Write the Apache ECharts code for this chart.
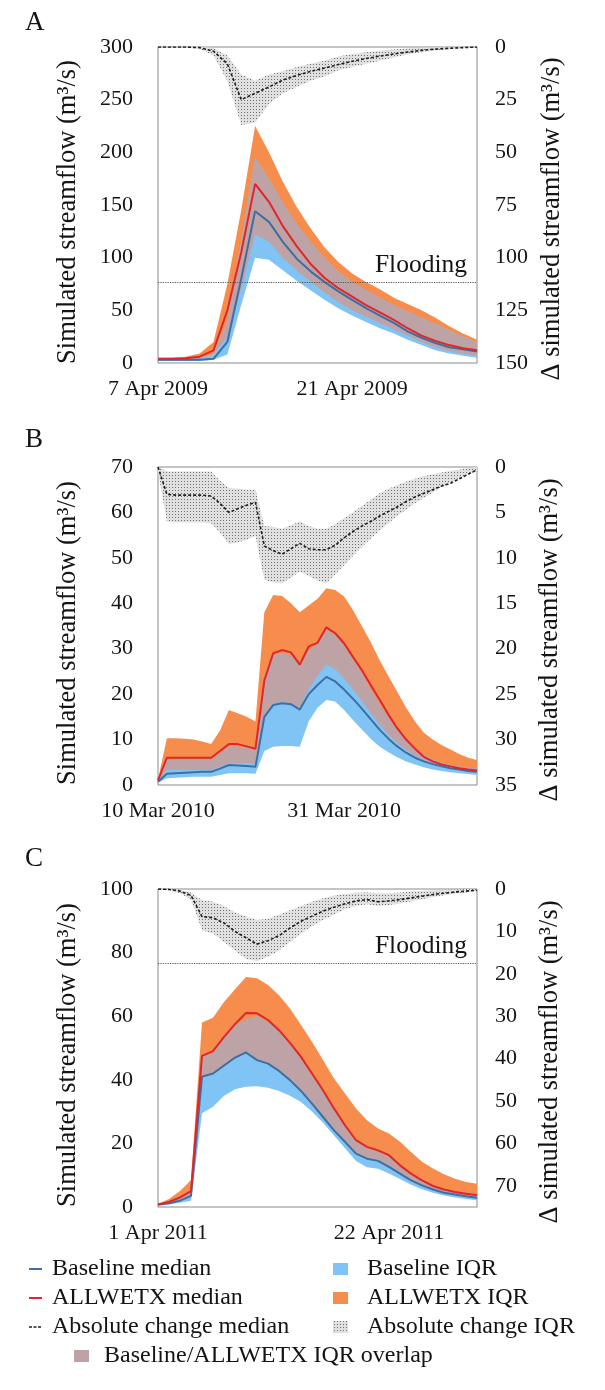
<!DOCTYPE html>
<html><head><meta charset="utf-8">
<script src="https://cdn.jsdelivr.net/npm/echarts@6/dist/echarts.min.js"></script>
<style>html,body{margin:0;padding:0;background:#fff}#c{width:605px;height:1390px}</style>
</head><body><div id="c"></div>
<script>
// ---------- categories & tick labels ----------
const catA = ['7 Apr 2009','8 Apr 2009','9 Apr 2009','10 Apr 2009','11 Apr 2009','12 Apr 2009','13 Apr 2009','14 Apr 2009','15 Apr 2009','16 Apr 2009','17 Apr 2009','18 Apr 2009','19 Apr 2009','20 Apr 2009','21 Apr 2009','22 Apr 2009','23 Apr 2009','24 Apr 2009','25 Apr 2009','26 Apr 2009','27 Apr 2009','28 Apr 2009','29 Apr 2009','30 Apr 2009'];
const catB = ['10 Mar 2010','11 Mar 2010','12 Mar 2010','13 Mar 2010','14 Mar 2010','15 Mar 2010','16 Mar 2010','17 Mar 2010','18 Mar 2010','19 Mar 2010','20 Mar 2010','21 Mar 2010','22 Mar 2010','23 Mar 2010','24 Mar 2010','25 Mar 2010','26 Mar 2010','27 Mar 2010','28 Mar 2010','29 Mar 2010','30 Mar 2010','31 Mar 2010','1 Apr 2010','2 Apr 2010','3 Apr 2010','4 Apr 2010','5 Apr 2010','6 Apr 2010','7 Apr 2010','8 Apr 2010','9 Apr 2010','10 Apr 2010','11 Apr 2010','12 Apr 2010','13 Apr 2010','14 Apr 2010','15 Apr 2010'];
const catC = ['1 Apr 2011','2 Apr 2011','3 Apr 2011','4 Apr 2011','5 Apr 2011','6 Apr 2011','7 Apr 2011','8 Apr 2011','9 Apr 2011','10 Apr 2011','11 Apr 2011','12 Apr 2011','13 Apr 2011','14 Apr 2011','15 Apr 2011','16 Apr 2011','17 Apr 2011','18 Apr 2011','19 Apr 2011','20 Apr 2011','21 Apr 2011','22 Apr 2011','23 Apr 2011','24 Apr 2011','25 Apr 2011','26 Apr 2011','27 Apr 2011','28 Apr 2011','29 Apr 2011','30 Apr 2011'];
const ticksA = ['7 Apr 2009','21 Apr 2009'];
const ticksB = ['10 Mar 2010','31 Mar 2010'];
const ticksC = ['1 Apr 2011','22 Apr 2011'];
const FLOOD = 76.5;

// ---------- Panel A ----------
const medBaseA = [3,3,3,3,4,20,80,144,134,115,99,87,77,68,60,52,45,38,30,24,19,15,13,11];
const medAllA  = [4,4,4.5,6,12,50,105,170,153,130,111,94,81,71,63,55,48,41,33,26,21,17,14,12];
const allHiA   = [5,5,6,9,20,75,145,225,200,172,148,128,110,96,85,77,70,62,56,50,43,35,28,22];
const allLoA   = [3,3,3,4,8,25,70,122,115,100,88,77,67,58,50,44,38,32,26,20,15,11,9,7];
const baseHiA  = [4,4,4,5,8,40,115,195,175,152,132,115,100,87,77,69,62,55,49,43,37,31,25,20];
const baseLoA  = [2,2,2,2,3,8,55,100,98,88,78,69,60,52,45,39,33,28,22,17,12,9,7,5];
const dMedA    = [0,0,0,0.3,2,8,25,22,19,15.7,13.5,11.6,10,8.3,6.8,5.5,4.3,3.3,2.4,1.6,1,0.6,0.3,0];
const dLoA     = [0,0,0,0,0.5,4,13,16,13,11.5,9.5,8,6.5,4.5,3.3,2.5,1.8,1.2,0.7,0.4,0.2,0.1,0,0];
const dHiA     = [0,0,0,0.8,4,16,37,36,27,22,19,16,14,11,9.5,8,6.5,5,3.5,2.5,1.7,1,0.5,0.3];

// ---------- Panel B ----------
const medBaseB = [0.7,2.5,2.6,2.7,2.8,2.9,2.9,3.6,4.4,4.3,4.2,4,15,17.6,18,17.8,16.6,20,22,23.8,22.8,21,19,16.8,14.5,12.2,10.2,8.5,7.1,6,5.2,4.6,4.1,3.7,3.4,3.1,2.9];
const medAllB  = [1,6,6,6,6,6,6,7.5,9,9,8.5,8,23,29,29.7,29.2,26.5,30.5,31.3,34.7,33.4,31.2,28.2,25.3,22,18.8,15.5,12.5,10,8,6.2,5.2,4.5,4.1,3.7,3.4,3.2];
const allHiB   = [1.2,10.3,10.3,10.2,10,9.6,9,12,16.5,15.8,15,14,38,41.8,41.6,40,38,39.5,41,43.3,42.9,41.5,38.5,35,31.5,27.5,24,20.5,17,14,11.5,10,8.8,7.8,6.8,6,5.5];
const allLoB   = [0.8,3.3,3.3,3.3,3.3,3.3,3.3,4,4.8,4.8,4.8,4.6,15,18,18.2,18,17,21,24,26.5,25.5,23.5,21,18.5,15.8,13.3,11,9.2,7.7,6.5,5.5,4.8,4.3,3.9,3.5,3.2,3];
const baseHiB  = [1,5.5,5.5,5.5,5.5,5.5,5.5,7,8.4,8.4,8.2,8,24,28.5,29,28.5,26,29.5,31,34,33,30.5,27.5,24.5,21,17.8,14.8,12,9.8,8,6.6,5.6,4.9,4.4,4,3.8,3.6];
const baseLoB  = [0.5,1.5,1.6,1.7,1.8,1.8,1.8,2.2,2.6,2.6,2.6,2.5,7.5,8.4,8.6,8.6,8.4,14,17,18.7,18.4,16.5,14.3,12.2,10.2,8.5,7.2,6.1,5.2,4.5,3.9,3.4,3.1,2.8,2.6,2.4,2.2];
const dMedB    = [0,3,3.1,3.1,3.1,3.1,3.2,4,5,4.6,4.2,3.9,8.7,9.2,9.6,9,8.4,9,9.1,9.1,8.6,7.8,7.1,6.5,6,5.4,4.9,4.4,3.8,3.3,2.9,2.5,2.1,1.8,1.3,0.8,0.3];
const dLoB     = [0,0.5,0.5,0.5,0.5,0.5,0.5,1.5,2.3,2.4,2.5,2.5,6.5,6.6,6.8,6.4,6,6.5,6.8,6.8,6.3,5.6,5,4.3,3.6,2.9,2.4,2,1.6,1.3,1,0.8,0.6,0.4,0.3,0.1,0];
const dHiB     = [0.5,6,6.1,6.1,6.1,6.1,6.2,7.2,8.5,8.3,8,7.6,12.4,12.7,12.8,12.2,11.5,12,12.5,12.8,11.8,10.8,9.8,8.8,7.9,7,6.2,5.4,4.7,4,3.4,2.8,2.2,1.7,1.2,0.8,0.4];

// ---------- Panel C ----------
const medBaseC = [0.8,1.2,2,3.5,41,42,44.5,47,48.6,46.2,45.1,42.8,39.9,36.5,32.5,28.3,24.1,20.5,16.8,15.2,14.5,12.6,10.5,8.4,6.8,5.5,4.5,3.9,3.4,2.9];
const medAllC  = [0.8,1.6,3,5,47.5,49,53.5,57.5,61,60.9,58.8,55.6,51.6,47.2,42,36.7,31,25.7,21,18.9,17.8,16.3,13.1,10.5,8.4,6.6,5.5,4.7,4.2,3.7];
const allHiC   = [1,2.5,5,8.5,58,59.5,64.5,68.5,72.3,71.9,69.8,66.6,62.4,57.2,52,46.2,40.4,35.7,31,27.3,24.7,23.1,20.5,17.3,14.2,12.1,10.3,8.9,7.9,7.3];
const allLoC   = [0.6,1,1.8,3.2,40.5,41.5,44,46.5,48.3,46,45,42.6,39.8,36.4,32.4,28.2,24,20.4,16.7,15.1,14.4,12.5,10.4,8.3,6.7,5.4,4.4,3.8,3.3,2.9];
const baseHiC  = [0.8,1.4,2.6,4.5,47,48.5,53,57,59,60,58,55,51,46.5,41,36,30.5,25,20.5,18.5,17.2,15.7,12.6,10,8,6.3,5.2,4.5,4,3.5];
const baseLoC  = [0.5,0.8,1.3,2,29.5,31.5,35,37,37.8,38,37.5,36.5,35,33,30,26.5,22.5,18.5,14.5,12.5,12,10.5,8.8,7,5.6,4.5,3.6,3,2.5,2.1];
const dMedC    = [0,0.1,0.5,1.5,6.5,6.8,8,10,11.5,13,12.2,11,9.2,7.6,6.4,5.2,4.3,3.5,2.8,2.5,3,2.8,2.5,2.1,1.7,1.3,1,0.7,0.5,0.3];
const dLoC     = [0,0,0.2,0.8,2.6,3,4,5.5,6.5,7.3,7,6,5,4,3,2.2,1.6,1.2,0.9,0.8,1,1,0.8,0.6,0.5,0.3,0.2,0.1,0,0];
const dHiC     = [0,0.3,1,2.5,9.7,10.5,12.5,14.5,16.5,17,16,14.5,12.5,10.5,8.8,7.3,6,4.8,4,3.6,4,3.8,3.4,2.9,2.4,1.9,1.5,1.1,0.8,0.5];

// ---------- styles ----------
const FONT = '"Liberation Serif", "Times New Roman", serif';
const TXT = '#141414';
const C_ORANGE = '#f78d4c', C_BLUE = '#80c4f5', C_OVER = '#bea3a6';
const C_BMED = '#3d6fa3', C_AMED = '#e0262c', C_DMED = '#1e1e1e';

const pc = document.createElement('canvas'); pc.width = 3; pc.height = 3;
const g = pc.getContext('2d');
g.fillStyle = '#e0e0e0'; g.fillRect(0,0,3,3);
g.fillStyle = '#707070'; g.fillRect(1,1,1,1);
const DOTS = { image: pc, repeat: 'repeat' };

const panels = [
  { cats: catA, ticks: ticksA, top: 47, h: 316, yMax: 300, yInt: 50, dMax: 150, dInt: 25, flood: true,
    mb: medBaseA, ma: medAllA, ah: allHiA, al: allLoA, bh: baseHiA, bl: baseLoA, dm: dMedA, dl: dLoA, dh: dHiA },
  { cats: catB, ticks: ticksB, top: 467, h: 318, yMax: 70, yInt: 10, dMax: 35, dInt: 5, flood: false,
    mb: medBaseB, ma: medAllB, ah: allHiB, al: allLoB, bh: baseHiB, bl: baseLoB, dm: dMedB, dl: dLoB, dh: dHiB },
  { cats: catC, ticks: ticksC, top: 889, h: 318, yMax: 100, yInt: 20, dMax: 75, dInt: 10, flood: true,
    mb: medBaseC, ma: medAllC, ah: allHiC, al: allLoC, bh: baseHiC, bl: baseLoC, dm: dMedC, dl: dLoC, dh: dHiC }
];

const grid = [], xAxis = [], yAxis = [], series = [];
function band(id, lo, hi, fill, xi, yi) {
  const common = { type: 'line', xAxisIndex: xi, yAxisIndex: yi, stack: id, symbol: 'none', silent: true,
    lineStyle: { opacity: 0 }, animation: false };
  series.push(Object.assign({}, common, { data: lo }));
  series.push(Object.assign({}, common, { data: hi.map((v, i) => Math.max(0, v - lo[i])), areaStyle: { color: fill, opacity: 1 } }));
}

panels.forEach((p, i) => {
  grid.push({ left: 158, width: 319, top: p.top, height: p.h, show: true, borderColor: '#8a8a8a', borderWidth: 1, backgroundColor: 'transparent' });
  xAxis.push({ type: 'category', gridIndex: i, data: p.cats, boundaryGap: false,
    axisLine: { show: false }, axisTick: { show: false }, splitLine: { show: false },
    axisLabel: { interval: (k, v) => p.ticks.includes(v), fontFamily: FONT, fontSize: 22, color: TXT, margin: 15 } });
  yAxis.push({ type: 'value', gridIndex: i, position: 'left', min: 0, max: p.yMax, interval: p.yInt,
    name: 'Simulated streamflow (m³/s)', nameLocation: 'middle', nameRotate: 90, nameGap: 76,
    nameTextStyle: { fontFamily: FONT, fontSize: 26.5, color: TXT, padding: [0, 14, 0, 0] },
    axisLine: { show: false }, axisTick: { show: false }, splitLine: { show: false },
    axisLabel: { fontFamily: FONT, fontSize: 22, color: TXT, margin: 25 } });
  yAxis.push({ type: 'value', gridIndex: i, position: 'right', inverse: true, min: 0, max: p.dMax, interval: p.dInt,
    name: 'Δ simulated streamflow (m³/s)', nameLocation: 'middle', nameRotate: 90, nameGap: 60,
    nameTextStyle: { fontFamily: FONT, fontSize: 26.5, color: TXT, padding: [0, 28, 0, 0] },
    axisLine: { show: false }, axisTick: { show: false }, splitLine: { show: false },
    axisLabel: { fontFamily: FONT, fontSize: 22, color: TXT, margin: 18, showMaxLabel: p.dMax % p.dInt === 0 } });
  const yl = 2 * i, yr = 2 * i + 1;
  band('all' + i, p.al, p.ah, C_ORANGE, i, yl);
  band('base' + i, p.bl, p.bh, C_BLUE, i, yl);
  const ovLo = p.al.map((v, k) => Math.max(v, p.bl[k]));
  const ovHi = p.ah.map((v, k) => Math.max(ovLo[k], Math.min(v, p.bh[k])));
  band('over' + i, ovLo, ovHi, C_OVER, i, yl);
  band('d' + i, p.dl, p.dh, DOTS, i, yr);
  series.push({ type: 'line', xAxisIndex: i, yAxisIndex: yr, data: p.dm, symbol: 'none', animation: false,
    lineStyle: { color: C_DMED, width: 1.6, type: [3, 2] } });
  const blue = { type: 'line', xAxisIndex: i, yAxisIndex: yl, data: p.mb, symbol: 'none', animation: false, z: 3,
    lineStyle: { color: C_BMED, width: 2 } };
  if (p.flood) {
    blue.markLine = { silent: true, symbol: ['none', 'none'], animation: false,
      lineStyle: { color: '#555', width: 1.2, type: [1.2, 1.2] },
      label: { show: true, position: 'insideEndTop', formatter: 'Flooding', fontFamily: FONT, fontSize: 25.5, color: TXT, distance: [10, 4] },
      data: [{ yAxis: FLOOD }] };
  }
  series.push(blue);
  series.push({ type: 'line', xAxisIndex: i, yAxisIndex: yl, data: p.ma, symbol: 'none', animation: false, z: 3,
    lineStyle: { color: C_AMED, width: 2 } });
});

// ---------- legend (graphic) ----------
const LY = [1269, 1298, 1327, 1356];
const LF = 24;
const tx = (t, x, y, size) => ({ type: 'text', style: { text: t, x: x, y: y, fontFamily: FONT, fontSize: size || LF, fill: TXT, verticalAlign: 'middle' } });
const graphic = [
  tx('A', 25, 23, 27), tx('B', 25, 440, 27), tx('C', 25, 859, 27),
  { type: 'line', shape: { x1: 29, y1: LY[0], x2: 42, y2: LY[0] }, style: { stroke: C_BMED, lineWidth: 2 } },
  tx('Baseline median', 52, LY[0]),
  { type: 'line', shape: { x1: 29, y1: LY[1], x2: 42, y2: LY[1] }, style: { stroke: C_AMED, lineWidth: 2 } },
  tx('ALLWETX median', 52, LY[1]),
  { type: 'line', shape: { x1: 29, y1: LY[2], x2: 42, y2: LY[2] }, style: { stroke: C_DMED, lineWidth: 1.5, lineDash: [3, 1.5] } },
  tx('Absolute change median', 52, LY[2]),
  { type: 'rect', shape: { x: 333, y: LY[0] - 6, width: 15, height: 12 }, style: { fill: C_BLUE } },
  tx('Baseline IQR', 367, LY[0]),
  { type: 'rect', shape: { x: 333, y: LY[1] - 6, width: 15, height: 12 }, style: { fill: C_ORANGE } },
  tx('ALLWETX IQR', 367, LY[1]),
  { type: 'rect', shape: { x: 333, y: LY[2] - 6, width: 15, height: 12 }, style: { fill: DOTS } },
  tx('Absolute change IQR', 367, LY[2]),
  { type: 'rect', shape: { x: 74, y: LY[3] - 6, width: 15, height: 12 }, style: { fill: C_OVER } },
  tx('Baseline/ALLWETX IQR overlap', 104, LY[3])
];

const chart = echarts.init(document.getElementById('c'), null, { renderer: 'canvas', width: 605, height: 1390 });
chart.setOption({ animation: false, backgroundColor: '#fff', grid, xAxis, yAxis, series, graphic });
</script></body></html>
